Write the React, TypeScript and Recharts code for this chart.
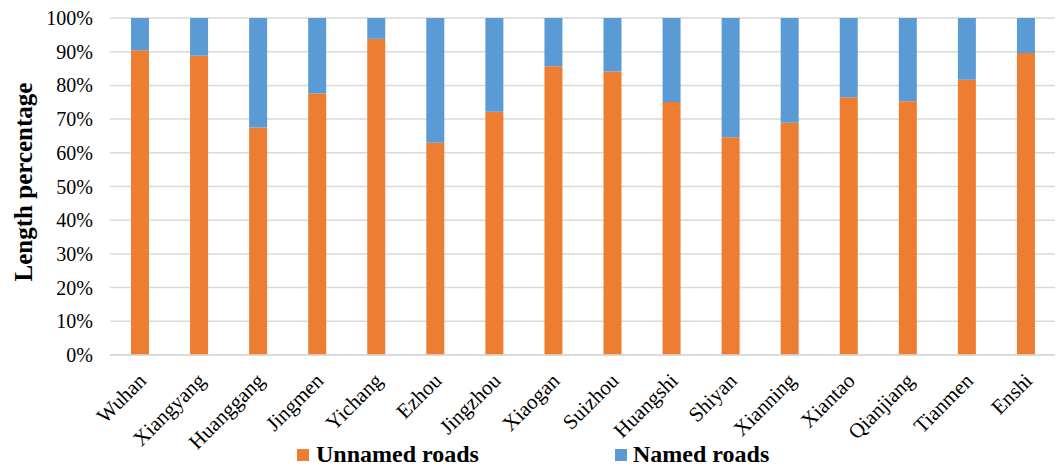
import React from 'react';
import { BarChart, Bar, XAxis, YAxis, CartesianGrid, Legend } from 'recharts';

const cities = ['Wuhan', 'Xiangyang', 'Huanggang', 'Jingmen', 'Yichang', 'Ezhou', 'Jingzhou', 'Xiaogan', 'Suizhou', 'Huangshi', 'Shiyan', 'Xianning', 'Xiantao', 'Qianjiang', 'Tianmen', 'Enshi'];
const unnamedRoads = [90.4, 88.8, 67.5, 77.6, 93.8, 63.0, 72.2, 85.7, 84.1, 75.1, 64.6, 68.9, 76.5, 75.3, 81.7, 89.6];
const namedRoads = [9.6, 11.2, 32.5, 22.4, 6.2, 37.0, 27.8, 14.3, 15.9, 24.9, 35.4, 31.1, 23.5, 24.7, 18.3, 10.4];
const yTicks = [0, 10, 20, 30, 40, 50, 60, 70, 80, 90, 100];

const data = cities.map((c, i) => ({ city: c, unnamed: unnamedRoads[i], named: namedRoads[i] }));

const FONT = '"Liberation Serif", "Times New Roman", serif';
const ORANGE = '#ED7D31';
const BLUE = '#5B9BD5';

const XTick = (props: any) => {
  const { x, y, payload } = props;
  return (
    <g transform={`translate(${x + 8},${y + 19})`}>
      <text x={0} y={0} textAnchor="end" transform="rotate(-45)" style={{ fontFamily: FONT, fontSize: 21 }} fill="#000">
        {payload.value}
      </text>
    </g>
  );
};

const YTick = (props: any) => {
  const { x, y, payload } = props;
  return (
    <text x={93} y={y} dy={7} textAnchor="end" style={{ fontFamily: FONT, fontSize: 20 }} fill="#000">
      {`${payload.value}%`}
    </text>
  );
};

const LegendContent = () => (
  <div style={{ position: 'relative', width: 1057, height: 35, fontFamily: FONT, fontWeight: 'bold', fontSize: 24, color: '#000' }}>
    <div style={{ position: 'absolute', left: 297, top: 14, width: 12, height: 12, background: ORANGE }} />
    <div style={{ position: 'absolute', left: 316, top: 4, lineHeight: '30px', whiteSpace: 'nowrap' }}>Unnamed roads</div>
    <div style={{ position: 'absolute', left: 615, top: 14, width: 12, height: 12, background: BLUE }} />
    <div style={{ position: 'absolute', left: 633, top: 4, lineHeight: '30px', whiteSpace: 'nowrap' }}>Named roads</div>
  </div>
);

export default function App() {
  return (
    <div style={{ position: 'absolute', left: 0, top: 0, width: 1057, height: 470, background: '#fff' }}>
      <BarChart width={1057} height={470} data={data} margin={{ top: 18, right: 2, left: 0, bottom: 0 }} barSize={18}>
        <CartesianGrid vertical={false} stroke="#d9d9d9" strokeWidth={1.5} />
        <XAxis
          dataKey="city"
          interval={0}
          height={80}
          tickLine={false}
          axisLine={{ stroke: '#d9d9d9', strokeWidth: 1.5 }}
          tick={<XTick />}
        />
        <YAxis
          width={110}
          domain={[0, 100]}
          ticks={yTicks}
          axisLine={false}
          tickLine={false}
          tick={<YTick />}
          label={{
            content: () => (
              <text x={32} y={182} transform="rotate(-90 32 182)" textAnchor="middle" style={{ fontFamily: FONT, fontWeight: 'bold', fontSize: 25 }} fill="#000">
                Length percentage
              </text>
            ),
          }}
        />
        <Legend verticalAlign="bottom" height={35} content={<LegendContent />} />
        <Bar dataKey="unnamed" stackId="a" fill={ORANGE} name="Unnamed roads" isAnimationActive={false} />
        <Bar dataKey="named" stackId="a" fill={BLUE} name="Named roads" isAnimationActive={false} />
      </BarChart>
    </div>
  );
}
